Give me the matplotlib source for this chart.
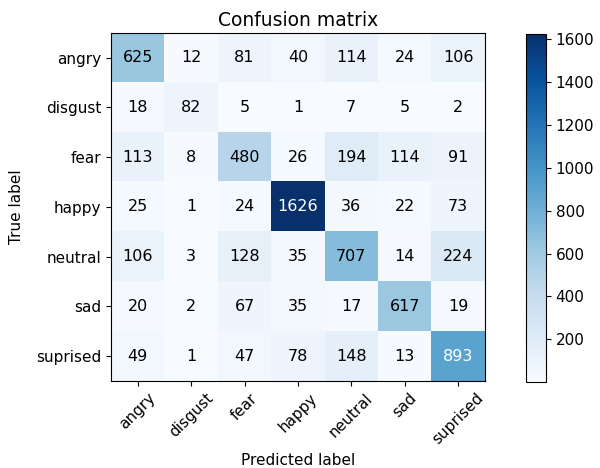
import numpy as np
import matplotlib
matplotlib.use("Agg")
import matplotlib.pyplot as plt

classes = ["angry", "disgust", "fear", "happy", "neutral", "sad", "suprised"]
cm = np.array([
    [625, 12, 81, 40, 114, 24, 106],
    [18, 82, 5, 1, 7, 5, 2],
    [113, 8, 480, 26, 194, 114, 91],
    [25, 1, 24, 1626, 36, 22, 73],
    [106, 3, 128, 35, 707, 14, 224],
    [20, 2, 67, 35, 17, 617, 19],
    [49, 1, 47, 78, 148, 13, 893],
])
cbar_ticks = [200, 400, 600, 800, 1000, 1200, 1400, 1600]

fig = plt.figure(figsize=(6, 4.68), dpi=100)
ax = fig.add_axes([0.185, 0.186, 0.623, 0.744])
cax = fig.add_axes([0.877, 0.184, 0.033, 0.744])

im = ax.imshow(cm, interpolation="nearest", cmap=plt.cm.Blues, aspect="auto")
ax.set_title("Confusion matrix", fontsize=13.5, pad=5)
cb = fig.colorbar(im, cax=cax, ticks=cbar_ticks)
cb.ax.tick_params(labelsize=11)

ticks = np.arange(len(classes))
ax.set_xticks(ticks)
ax.set_xticklabels(classes, rotation=45, fontsize=11)
ax.set_yticks(ticks)
ax.set_yticklabels(classes, fontsize=11)

thresh = cm.max() / 2.0
for i in range(cm.shape[0]):
    for j in range(cm.shape[1]):
        ax.text(j, i, format(cm[i, j], "d"), ha="center", va="center",
                fontsize=11.5, color="white" if cm[i, j] > thresh else "black")

ax.set_ylabel("True label", fontsize=11, labelpad=9)
ax.set_xlabel("Predicted label", fontsize=11)

fig.savefig("out.png", dpi=100)
